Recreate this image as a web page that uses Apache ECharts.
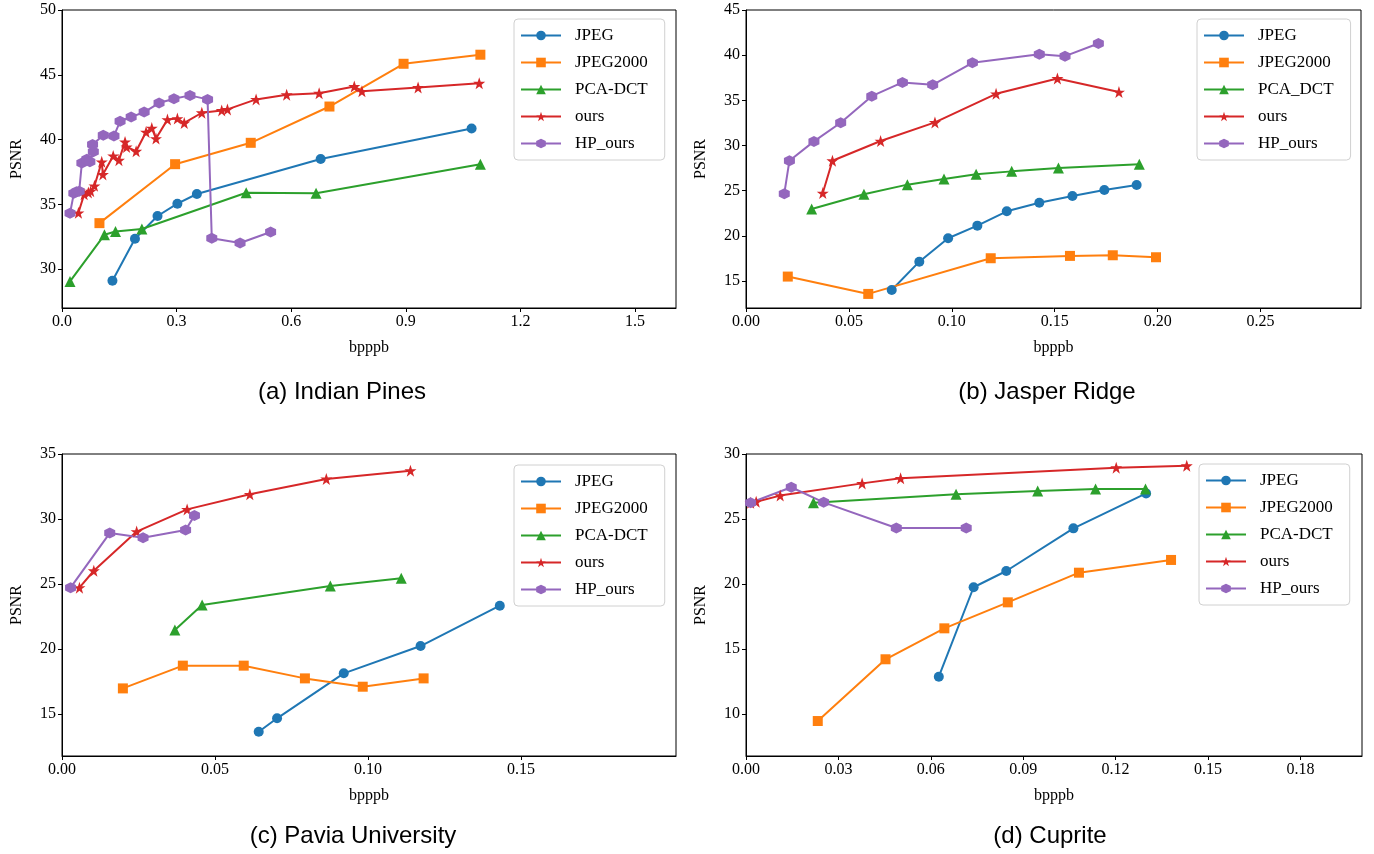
<!DOCTYPE html>
<html>
<head>
<meta charset="utf-8">
<script src="https://cdn.jsdelivr.net/npm/echarts@6/dist/echarts.min.js"></script>
<style>
html,body{margin:0;padding:0;background:#fff;}
#chart{width:1374px;height:854px;}
</style>
</head>
<body>
<div id="chart"></div>
<script>
// ---------- data (bpppb, PSNR) ----------
const a_JPEG = [[0.132,29.1],[0.191,32.35],[0.250,34.1],[0.302,35.05],[0.353,35.8],[0.677,38.5],[1.072,40.85]];
const a_JPEG2000 = [[0.098,33.55],[0.296,38.1],[0.494,39.75],[0.700,42.55],[0.894,45.85],[1.095,46.55]];
const a_PCA = [[0.021,29.05],[0.111,32.65],[0.140,32.9],[0.209,33.1],[0.482,35.9],[0.665,35.85],[1.095,38.1]];
const a_ours = [[0.043,34.35],[0.058,35.77],[0.069,35.92],[0.075,36.02],[0.085,36.43],[0.104,38.28],[0.107,37.31],[0.134,38.74],[0.149,38.41],[0.165,39.82],[0.169,39.43],[0.194,39.1],[0.220,40.58],[0.235,40.89],[0.246,40.08],[0.276,41.54],[0.302,41.62],[0.320,41.28],[0.366,42.07],[0.418,42.25],[0.433,42.33],[0.508,43.1],[0.588,43.46],[0.673,43.58],[0.765,44.1],[0.785,43.72],[0.932,44.02],[1.092,44.35]];
const a_HP = [[0.021,34.31],[0.031,35.85],[0.038,35.97],[0.045,36.02],[0.052,38.2],[0.065,38.48],[0.073,38.28],[0.082,39.05],[0.080,39.62],[0.108,40.33],[0.136,40.28],[0.152,41.41],[0.181,41.74],[0.215,42.12],[0.254,42.82],[0.293,43.15],[0.335,43.41],[0.381,43.1],[0.392,32.38],[0.466,32.02],[0.546,32.87]];

const b_JPEG = [[0.0708,14.0],[0.0842,17.13],[0.0982,19.72],[0.1124,21.12],[0.1267,22.71],[0.1425,23.66],[0.1586,24.4],[0.1741,25.07],[0.1898,25.62]];
const b_JPEG2000 = [[0.0203,15.48],[0.0594,13.56],[0.1189,17.51],[0.1574,17.77],[0.1782,17.84],[0.1992,17.62]];
const b_PCA = [[0.0319,22.96],[0.0573,24.59],[0.0784,25.66],[0.0962,26.28],[0.1118,26.8],[0.1291,27.13],[0.1518,27.5],[0.1911,27.91]];
const b_ours = [[0.0373,24.73],[0.0420,28.31],[0.0654,30.49],[0.0918,32.55],[0.1215,35.72],[0.1513,37.42],[0.1812,35.91]];
const b_HP = [[0.0186,24.66],[0.0211,28.31],[0.0330,30.45],[0.0460,32.51],[0.0611,35.46],[0.0760,36.98],[0.0907,36.71],[0.1100,39.15],[0.1425,40.11],[0.1550,39.89],[0.1712,41.29]];

const c_JPEG = [[0.0643,13.64],[0.0703,14.67],[0.0921,18.13],[0.1172,20.23],[0.1431,23.33]];
const c_JPEG2000 = [[0.0199,16.97],[0.0395,18.72],[0.0594,18.72],[0.0794,17.74],[0.0983,17.1],[0.1182,17.74]];
const c_PCA = [[0.0369,21.46],[0.0458,23.38],[0.0877,24.85],[0.1109,25.44]];
const c_ours = [[0.0057,24.72],[0.0104,26.02],[0.0244,29.03],[0.0409,30.74],[0.0614,31.9],[0.0864,33.08],[0.1139,33.72]];
const c_HP = [[0.0028,24.72],[0.0156,28.92],[0.0265,28.56],[0.0404,29.15],[0.0433,30.26]];

const d_JPEG = [[0.0626,12.87],[0.0739,19.75],[0.0845,21.0],[0.1063,24.28],[0.1299,26.97]];
const d_JPEG2000 = [[0.0233,9.46],[0.0453,14.21],[0.0644,16.59],[0.0850,18.59],[0.1081,20.87],[0.1380,21.85]];
const d_PCA = [[0.0219,26.25],[0.0682,26.9],[0.0947,27.15],[0.1135,27.31],[0.1297,27.31]];
const d_ours = [[0.0015,26.25],[0.0033,26.33],[0.0111,26.8],[0.0377,27.74],[0.0502,28.13],[0.1202,28.95],[0.1431,29.1]];
const d_HP = [[0.0015,26.25],[0.0147,27.44],[0.0252,26.28],[0.0488,24.31],[0.0715,24.31]];

// ---------- tick labels ----------
const a_xTicks = [0, 0.3, 0.6, 0.9, 1.2, 1.5];
const a_yTicks = [30, 35, 40, 45, 50];
const b_xTicks = [0, 0.05, 0.10, 0.15, 0.20, 0.25];
const b_yTicks = [15, 20, 25, 30, 35, 40, 45];
const c_xTicks = [0, 0.05, 0.10, 0.15];
const c_yTicks = [15, 20, 25, 30, 35];
const d_xTicks = [0, 0.03, 0.06, 0.09, 0.12, 0.15, 0.18];
const d_yTicks = [10, 15, 20, 25, 30];

const titles = ['(a) Indian Pines', '(b) Jasper Ridge', '(c) Pavia University', '(d) Cuprite'];
const legendNames = ['JPEG', 'JPEG2000', 'PCA-DCT', 'ours', 'HP_ours'];
const legendNamesB = ['JPEG', 'JPEG2000', 'PCA_DCT', 'ours', 'HP_ours'];

// ---------- styling ----------
const COLORS = ['#1f77b4', '#ff7f0e', '#2ca02c', '#d62728', '#9467bd'];
const STAR = 'path://M50,0 L61.8,35.1 L98.1,35.1 L68.8,56.8 L79.4,91.3 L50,70 L20.6,91.3 L31.2,56.8 L1.9,35.1 L38.2,35.1 Z';
const HEX = 'path://M50,0 L93.3,25 L93.3,75 L50,100 L6.7,75 L6.7,25 Z';
const SYMBOLS = [['circle', 10], ['rect', 10], ['triangle', 11], [STAR, 12], [HEX, 11]];
const SERIF = '"Liberation Serif", "DejaVu Serif", serif';

const grids = [
  {left: 62, top: 10, width: 614, height: 298},
  {left: 746, top: 10, width: 615, height: 298},
  {left: 62, top: 454, width: 614, height: 302},
  {left: 746, top: 454, width: 616, height: 302}
];
const xRanges = [[0, 1.607], [0, 0.2988], [0, 0.2007], [0, 0.2]];
const yRanges = [[27, 50], [12, 45], [11.77, 35], [6.77, 30]];
const xTickSets = [a_xTicks, b_xTicks, c_xTicks, d_xTicks];
const yTickSets = [a_yTicks, b_yTicks, c_yTicks, d_yTicks];
const xDigits = [1, 2, 2, 2];
const panelData = [
  [a_JPEG, a_JPEG2000, a_PCA, a_ours, a_HP],
  [b_JPEG, b_JPEG2000, b_PCA, b_ours, b_HP],
  [c_JPEG, c_JPEG2000, c_PCA, c_ours, c_HP],
  [d_JPEG, d_JPEG2000, d_PCA, d_ours, d_HP]
];
const legendPos = [[514, 19], [1197, 19], [514, 465], [1199, 464]];
const titlePos = [[342, 392], [1047, 392], [353, 836], [1050, 836]];

const option = {
  animation: false,
  backgroundColor: '#fff',
  grid: grids.map(g => Object.assign({show: true, borderColor: '#000', borderWidth: 1, backgroundColor: 'transparent'}, g)),
  xAxis: grids.map((g, i) => ({
    type: 'value', gridIndex: i, min: xRanges[i][0], max: xRanges[i][1],
    axisLine: {show: true, onZero: false, lineStyle: {color: '#000', width: 1}},
    axisTick: {show: true, length: 4, customValues: xTickSets[i], lineStyle: {color: '#000'}},
    axisLabel: {customValues: xTickSets[i], color: '#000', fontFamily: SERIF, fontSize: 16, margin: 6,
      formatter: v => Number(v).toFixed(xDigits[i])},
    splitLine: {show: false},
    name: 'bpppb', nameLocation: 'middle', nameGap: 32,
    nameTextStyle: {color: '#000', fontFamily: SERIF, fontSize: 16}
  })),
  yAxis: grids.map((g, i) => ({
    type: 'value', gridIndex: i, min: yRanges[i][0], max: yRanges[i][1],
    axisLine: {show: true, onZero: false, lineStyle: {color: '#000', width: 1}},
    axisTick: {show: true, length: 4, customValues: yTickSets[i], lineStyle: {color: '#000'}},
    axisLabel: {customValues: yTickSets[i], color: '#000', fontFamily: SERIF, fontSize: 16, margin: 6,
      formatter: v => String(Math.round(v))},
    splitLine: {show: false},
    name: 'PSNR', nameLocation: 'middle', nameGap: 37, nameRotate: 90,
    nameTextStyle: {color: '#000', fontFamily: SERIF, fontSize: 16}
  })),
  legend: legendPos.map((p, i) => ({
    orient: 'vertical', left: p[0], top: p[1],
    data: i === 1 ? legendNamesB : legendNames,
    itemWidth: 40, itemHeight: 12, itemGap: 10,
    padding: [8, 17, 8, 6],
    borderColor: '#d0d0d0', borderWidth: 1, borderRadius: 4,
    backgroundColor: 'rgba(255,255,255,0.8)',
    selectedMode: false,
    textStyle: {color: '#000', fontFamily: SERIF, fontSize: 17, padding: [0, 0, 0, 9]}
  })),
  graphic: titles.map((t, i) => ({
    type: 'text', x: titlePos[i][0], y: titlePos[i][1],
    style: {text: t, textAlign: 'center', textVerticalAlign: 'middle',
      font: '24px "Liberation Sans", Arial, sans-serif', fill: '#000'}
  })),
  series: []
};

panelData.forEach((arr, p) => {
  arr.forEach((data, k) => {
    const name = (p === 1 ? legendNamesB : legendNames)[k];
    option.series.push({
      type: 'line', name: name, xAxisIndex: p, yAxisIndex: p, data: data,
      symbol: SYMBOLS[k][0], symbolSize: SYMBOLS[k][1], showSymbol: true,
      lineStyle: {color: COLORS[k], width: 2},
      itemStyle: {color: COLORS[k], borderWidth: 0},
      emphasis: {disabled: true}
    });
  });
});

const chart = echarts.init(document.getElementById('chart'), null, {renderer: 'canvas'});
chart.setOption(option);
</script>
</body>
</html>
